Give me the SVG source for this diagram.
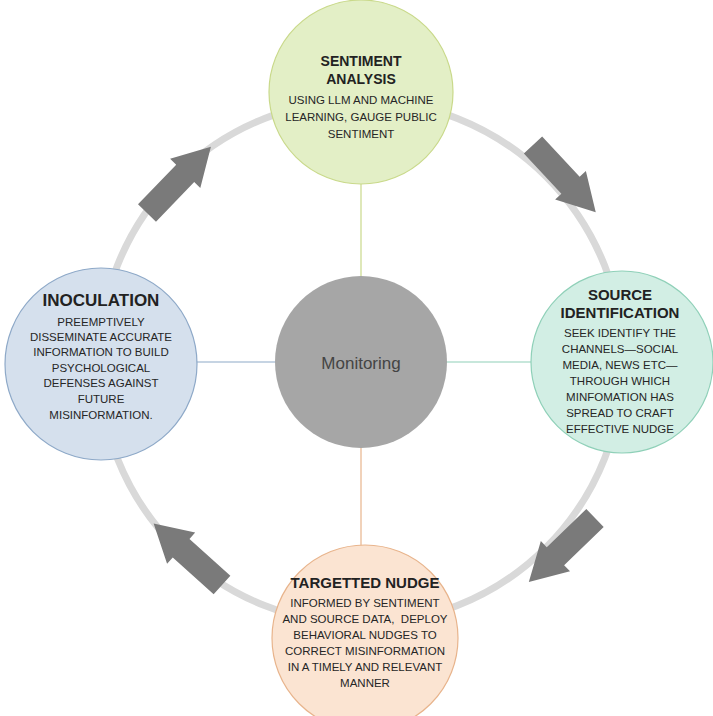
<svg xmlns="http://www.w3.org/2000/svg" width="713" height="716" viewBox="0 0 713 716">
<style>
.t{font-family:"Liberation Sans",Arial,sans-serif;font-weight:bold;fill:#222;text-anchor:middle}
.b{font-family:"Liberation Sans",Arial,sans-serif;font-size:11.5px;fill:#262626;text-anchor:middle}
.arrow{fill:#7a7a7a}
</style>
<defs>
<path id="arr" d="M0,-12.5 L55,-12.5 L55,-21 L92,0 L55,21 L55,12.5 L0,12.5 Z"/>
</defs>
<rect width="713" height="716" fill="#fff"/>
<g id="connectors">
<circle cx="361" cy="362" r="262" fill="none" stroke="#d9d9d9" stroke-width="7"/>
<line x1="361" y1="180" x2="361" y2="278" stroke="#c9d98a" stroke-width="1.2"/>
<line x1="446" y1="362" x2="532" y2="362" stroke="#8fd0b8" stroke-width="1.2"/>
<line x1="361" y1="446" x2="361" y2="546" stroke="#e8b48c" stroke-width="1.2"/>
<line x1="196" y1="362" x2="276" y2="362" stroke="#8ea9c8" stroke-width="1.2"/>
<use href="#arr" class="arrow" transform="translate(533,145) rotate(47)"/>
<use href="#arr" class="arrow" transform="translate(595,518) rotate(136)"/>
<use href="#arr" class="arrow" transform="translate(222,585) rotate(222)"/>
<use href="#arr" class="arrow" transform="translate(147,213) rotate(-46)"/>
</g>
<g id="monitoring">
<circle cx="361" cy="362" r="86" fill="#a6a6a6"/>
<text x="361" y="369" font-family="Liberation Sans,Arial,sans-serif" font-size="17" fill="#444" text-anchor="middle">Monitoring</text>
</g>
<g id="sentiment">
<circle cx="361" cy="92" r="92" fill="#e3efc6" stroke="#c9d98a" stroke-width="1.2"/>
<text class="t" font-size="14"><tspan x="361" y="66">SENTIMENT</tspan><tspan x="361" y="84">ANALYSIS</tspan></text>
<text class="b"><tspan x="361" y="104">USING LLM AND MACHINE</tspan><tspan x="361" y="121">LEARNING, GAUGE PUBLIC</tspan><tspan x="361" y="138">SENTIMENT</tspan></text>
</g>
<g id="source">
<circle cx="622" cy="362" r="91" fill="#d2eee4" stroke="#8fd0b8" stroke-width="1.2"/>
<text class="t" font-size="15"><tspan x="620" y="300">SOURCE</tspan><tspan x="620" y="318">IDENTIFICATION</tspan></text>
<text class="b"><tspan x="620" y="337">SEEK IDENTIFY THE</tspan><tspan x="620" y="353">CHANNELS—SOCIAL</tspan><tspan x="620" y="369">MEDIA, NEWS ETC—</tspan><tspan x="620" y="385">THROUGH WHICH</tspan><tspan x="620" y="401">MINFOMATION HAS</tspan><tspan x="620" y="417">SPREAD TO CRAFT</tspan><tspan x="620" y="433">EFFECTIVE NUDGE</tspan></text>
</g>
<g id="nudge">
<circle cx="365" cy="638" r="93" fill="#fbe4d2" stroke="#e8b48c" stroke-width="1.2"/>
<text class="t" font-size="15" x="365" y="588">TARGETTED NUDGE</text>
<text class="b" xml:space="preserve"><tspan x="365" y="607">INFORMED BY SENTIMENT</tspan><tspan x="365" y="623">AND SOURCE DATA,  DEPLOY</tspan><tspan x="365" y="639">BEHAVIORAL NUDGES TO</tspan><tspan x="365" y="655">CORRECT MISINFORMATION</tspan><tspan x="365" y="671">IN A TIMELY AND RELEVANT</tspan><tspan x="365" y="687">MANNER</tspan></text>
</g>
<g id="inoculation">
<circle cx="101" cy="364" r="96" fill="#d5e0ed" stroke="#8ea9c8" stroke-width="1.2"/>
<text class="t" font-size="17" x="101" y="306">INOCULATION</text>
<text class="b"><tspan x="101" y="326">PREEMPTIVELY</tspan><tspan x="101" y="341">DISSEMINATE ACCURATE</tspan><tspan x="101" y="356">INFORMATION TO BUILD</tspan><tspan x="101" y="372">PSYCHOLOGICAL</tspan><tspan x="101" y="387">DEFENSES AGAINST</tspan><tspan x="101" y="403">FUTURE</tspan><tspan x="101" y="419">MISINFORMATION.</tspan></text>
</g>
</svg>
